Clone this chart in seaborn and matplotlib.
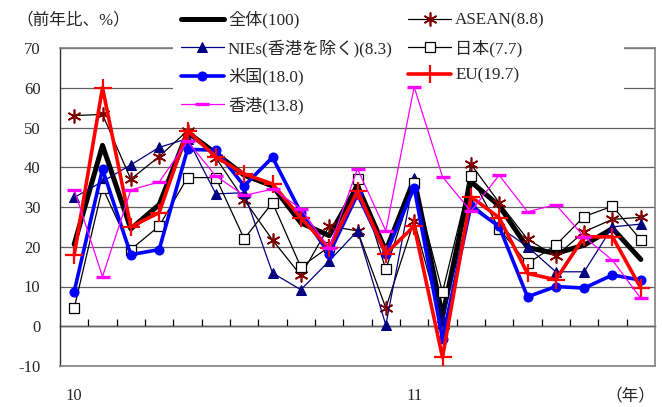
import numpy as np
import pandas as pd
import matplotlib
matplotlib.use("Agg")
import matplotlib.pyplot as plt
import seaborn as sns
from matplotlib.patches import Rectangle

months = ["2010-01", "2010-02", "2010-03", "2010-04", "2010-05", "2010-06",
          "2010-07", "2010-08", "2010-09", "2010-10", "2010-11", "2010-12",
          "2011-01", "2011-02", "2011-03", "2011-04", "2011-05", "2011-06",
          "2011-07", "2011-08", "2011-09"]

total = [20.6, 45.5, 24.5, 30.6, 48.8, 43.5, 38.0, 35.3, 26.0, 22.8, 35.3,
         19.0, 37.0, 2.5, 36.4, 30.3, 19.8, 18.3, 20.4, 24.6, 16.8]
asean = [53.0, 53.3, 37.0, 42.7, 49.2, 42.4, 31.8, 21.7, 12.8, 25.2, 24.0,
         4.6, 26.5, 0.2, 40.8, 31.1, 21.9, 17.6, 23.8, 26.9, 27.4]
nies = [32.4, 36.4, 40.6, 45.0, 47.2, 33.3, 33.6, 13.4, 9.2, 16.4, 24.0,
        0.3, 37.4, 1.5, 31.0, 25.0, 20.0, 13.7, 13.7, 25.0, 25.7]
japan = [4.5, 34.9, 19.3, 25.2, 37.4, 37.4, 22.0, 31.1, 14.9, 20.0, 37.1,
         14.3, 36.0, 8.6, 37.8, 24.5, 15.8, 20.4, 27.6, 30.2, 21.7]
usa = [8.7, 39.5, 18.0, 19.3, 44.5, 44.3, 35.3, 42.5, 28.6, 18.3, 33.2,
       18.3, 34.9, -3.2, 30.2, 25.1, 7.4, 10.0, 9.6, 12.9, 11.6]
eu = [17.9, 60.0, 25.0, 28.6, 49.2, 42.6, 38.3, 35.8, 27.3, 19.6, 34.0,
      18.3, 25.2, -7.8, 32.6, 27.3, 13.3, 11.7, 22.5, 22.5, 9.6]
hk = [34.4, 12.5, 34.3, 36.3, 46.5, 37.8, 32.9, 34.5, 29.6, 19.6, 39.6,
      24.0, 60.2, 37.6, 28.9, 38.0, 28.8, 30.6, 22.5, 16.6, 7.0]

series_names = ["全体(100)", "ASEAN(8.8)", "NIEs(香港を除く)(8.3)", "日本(7.7)",
                "米国(18.0)", "EU(19.7)", "香港(13.8)"]
y_ticks = [-10, 0, 10, 20, 30, 40, 50, 60, 70]

W, H = 662, 407
sns.set_theme(style="white")
plt.rcParams["font.family"] = ["Liberation Serif", "Noto Sans CJK JP"]
plt.rcParams["axes.unicode_minus"] = False

fig = plt.figure(figsize=(W / 100, H / 100), dpi=100)
ax = fig.add_axes([60 / W, 1 - 366 / H, 595 / W, 318 / H])

xpos = np.arange(len(months))
df = pd.DataFrame({"x": xpos, "total": total, "asean": asean, "nies": nies,
                   "japan": japan, "usa": usa, "eu": eu, "hk": hk})

styles = [
    ("total", dict(color="black", linewidth=3.6, marker=None)),
    ("asean", dict(color="black", linewidth=0.9, marker=(6, 2, 0), markersize=10,
                   markeredgecolor="#800000", markeredgewidth=1.2)),
    ("nies", dict(color="#000080", linewidth=0.9, marker="^", markersize=7,
                  markerfacecolor="#000080", markeredgecolor="#000080")),
    ("japan", dict(color="black", linewidth=0.9, marker="s", markersize=6.5,
                   markerfacecolor="white", markeredgecolor="black", markeredgewidth=0.9)),
    ("usa", dict(color="#0000FF", linewidth=2.6, marker="o", markersize=6.5,
                 markerfacecolor="#0000FF", markeredgecolor="#0000FF")),
    ("eu", dict(color="#FF0000", linewidth=2.6, marker="+", markersize=13,
                markeredgecolor="#FF0000", markeredgewidth=1.6)),
    ("hk", dict(color="#FF00FF", linewidth=0.9, marker="_", markersize=10,
                markeredgecolor="#FF00FF", markeredgewidth=2.4)),
]

for z, ((col, st), name) in enumerate(zip(styles, series_names)):
    sns.lineplot(data=df, x="x", y=col, ax=ax, label=name, zorder=3 + z, **st)

ax.set_xlim(-0.5, len(months) - 0.5)
ax.set_ylim(-10, 70)
ax.set_yticks(y_ticks)
ax.set_yticklabels([str(v) for v in y_ticks])
ax.yaxis.grid(True, color="#606060", linewidth=0.9)
ax.xaxis.grid(False)
ax.set_axisbelow(True)
ax.set_xlabel("")
ax.set_ylabel("")

year_idx = [i for i, m in enumerate(months) if m.endswith("-01")]
ax.set_xticks(year_idx)
ax.set_xticklabels([months[i][2:4] for i in year_idx])
ax.tick_params(axis="x", length=0, pad=16, labelsize=12)
ax.tick_params(axis="y", length=0, pad=14, labelsize=12)

for s in ["top", "right", "bottom"]:
    ax.spines[s].set_color("#808080")
    ax.spines[s].set_linewidth(1.2)
ax.spines["left"].set_color("#303030")
ax.spines["left"].set_linewidth(1.0)

# zero line with category-boundary ticks
sec = ax.secondary_xaxis(0, transform=ax.transData)
sec.set_xticks(np.arange(0.5, len(months) - 1, 1.0))
sec.tick_params(direction="in", length=5, width=0.9, color="black", labelbottom=False)
sec.spines["bottom"].set_color("black")
sec.spines["bottom"].set_linewidth(1.0)

# white legend backdrop
ax.add_patch(Rectangle((173 / W, 1 - 114 / H), (624 - 173) / W, 114 / H,
                       transform=fig.transFigure, facecolor="white",
                       edgecolor="none", zorder=2.7, clip_on=False))

handles, labels = ax.get_legend_handles_labels()
order = [0, 2, 4, 6, 1, 3, 5]
leg = ax.legend([handles[i] for i in order], [labels[i] for i in order],
                ncol=2, loc="upper left", bbox_to_anchor=(181 / W, 1 - 11 / H),
                bbox_transform=fig.transFigure, frameon=False, borderpad=0,
                borderaxespad=0, handlelength=2.5, handletextpad=0.25,
                columnspacing=0.9, labelspacing=0.63, numpoints=1, fontsize=12.3)
leg.set_zorder(20)

fig.text(16 / W, 1 - 20 / H, "（前年比、%）", ha="left", va="center", fontsize=12)
fig.text(630 / W, 1 - 396 / H, "（年）", ha="center", va="center", fontsize=12)

fig.savefig("out.png", dpi=100)
